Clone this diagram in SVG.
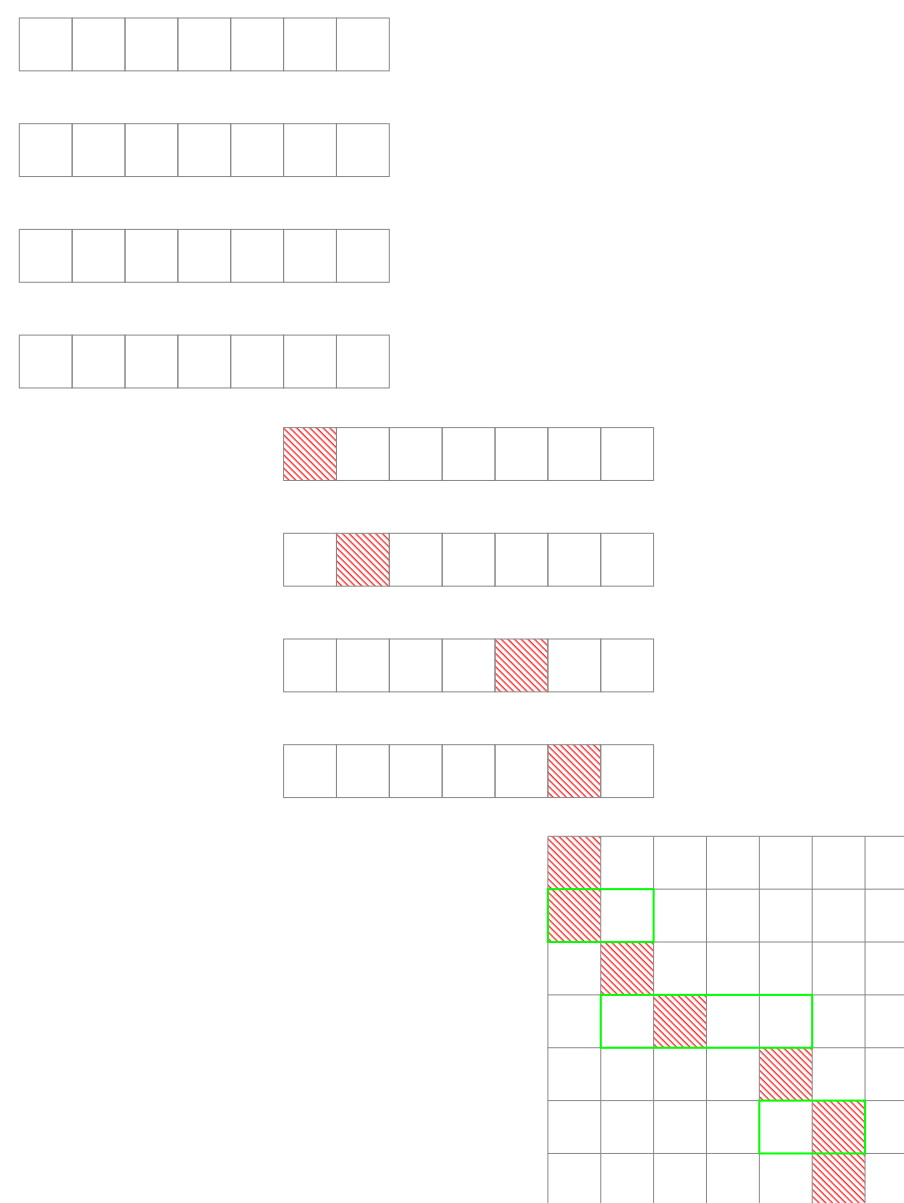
<svg xmlns="http://www.w3.org/2000/svg" width="904" height="1203" viewBox="0 0 904 1203">
<style>
.cell{fill:none;stroke:#888;stroke-width:1}
.grid{stroke:#888;stroke-width:1}
.hatch{fill:url(#hatch);stroke:none}
.sel{fill:none;stroke:#00ff00;stroke-width:2}
</style>
<defs>
<pattern id="hatch" patternUnits="userSpaceOnUse" width="4.7" height="4.7" patternTransform="rotate(-45)">
<line x1="1.2" y1="0" x2="1.2" y2="4.7" stroke="#ff2a2a" stroke-width="1.4"/>
</pattern>
<g id="strip">
<rect class="cell" x="0" y="0" width="52.86" height="52.86"/>
<rect class="cell" x="52.86" y="0" width="52.86" height="52.86"/>
<rect class="cell" x="105.71" y="0" width="52.86" height="52.86"/>
<rect class="cell" x="158.57" y="0" width="52.86" height="52.86"/>
<rect class="cell" x="211.43" y="0" width="52.86" height="52.86"/>
<rect class="cell" x="264.29" y="0" width="52.86" height="52.86"/>
<rect class="cell" x="317.14" y="0" width="52.86" height="52.86"/>
</g>
</defs>
<g id="row1"><use href="#strip" x="19.3" y="18"/></g>
<g id="row2"><use href="#strip" x="19.3" y="123.7"/></g>
<g id="row3"><use href="#strip" x="19.3" y="229.4"/></g>
<g id="row4"><use href="#strip" x="19.3" y="335.1"/></g>
<g id="row5"><rect class="hatch" x="283.6" y="427.6" width="52.86" height="52.86"/><use href="#strip" x="283.6" y="427.6"/></g>
<g id="row6"><rect class="hatch" x="336.46" y="533.3" width="52.86" height="52.86"/><use href="#strip" x="283.6" y="533.3"/></g>
<g id="row7"><rect class="hatch" x="495.03" y="639" width="52.86" height="52.86"/><use href="#strip" x="283.6" y="639"/></g>
<g id="row8"><rect class="hatch" x="547.89" y="744.7" width="52.86" height="52.86"/><use href="#strip" x="283.6" y="744.7"/></g>
<g id="matrix">
<rect class="hatch" x="547.9" y="836.3" width="52.86" height="52.86"/>
<rect class="hatch" x="547.9" y="889.16" width="52.86" height="52.86"/>
<rect class="hatch" x="600.76" y="942.02" width="52.86" height="52.86"/>
<rect class="hatch" x="653.61" y="994.88" width="52.86" height="52.86"/>
<rect class="hatch" x="759.33" y="1047.74" width="52.86" height="52.86"/>
<rect class="hatch" x="812.19" y="1100.6" width="52.86" height="52.86"/>
<rect class="hatch" x="812.19" y="1153.46" width="52.86" height="52.86"/>
<g class="grid">
<line x1="547.9" y1="836.3" x2="547.9" y2="1203"/>
<line x1="600.76" y1="836.3" x2="600.76" y2="1203"/>
<line x1="653.61" y1="836.3" x2="653.61" y2="1203"/>
<line x1="706.47" y1="836.3" x2="706.47" y2="1203"/>
<line x1="759.33" y1="836.3" x2="759.33" y2="1203"/>
<line x1="812.19" y1="836.3" x2="812.19" y2="1203"/>
<line x1="865.04" y1="836.3" x2="865.04" y2="1203"/>
<line x1="547.9" y1="836.3" x2="904" y2="836.3"/>
<line x1="547.9" y1="889.16" x2="904" y2="889.16"/>
<line x1="547.9" y1="942.02" x2="904" y2="942.02"/>
<line x1="547.9" y1="994.88" x2="904" y2="994.88"/>
<line x1="547.9" y1="1047.74" x2="904" y2="1047.74"/>
<line x1="547.9" y1="1100.6" x2="904" y2="1100.6"/>
<line x1="547.9" y1="1153.46" x2="904" y2="1153.46"/>
</g>
</g>
<g id="selections">
<rect class="sel" x="547.9" y="889.16" width="105.71" height="52.86"/>
<rect class="sel" x="600.76" y="994.88" width="211.43" height="52.86"/>
<rect class="sel" x="759.33" y="1100.6" width="105.71" height="52.86"/>
</g>
</svg>
